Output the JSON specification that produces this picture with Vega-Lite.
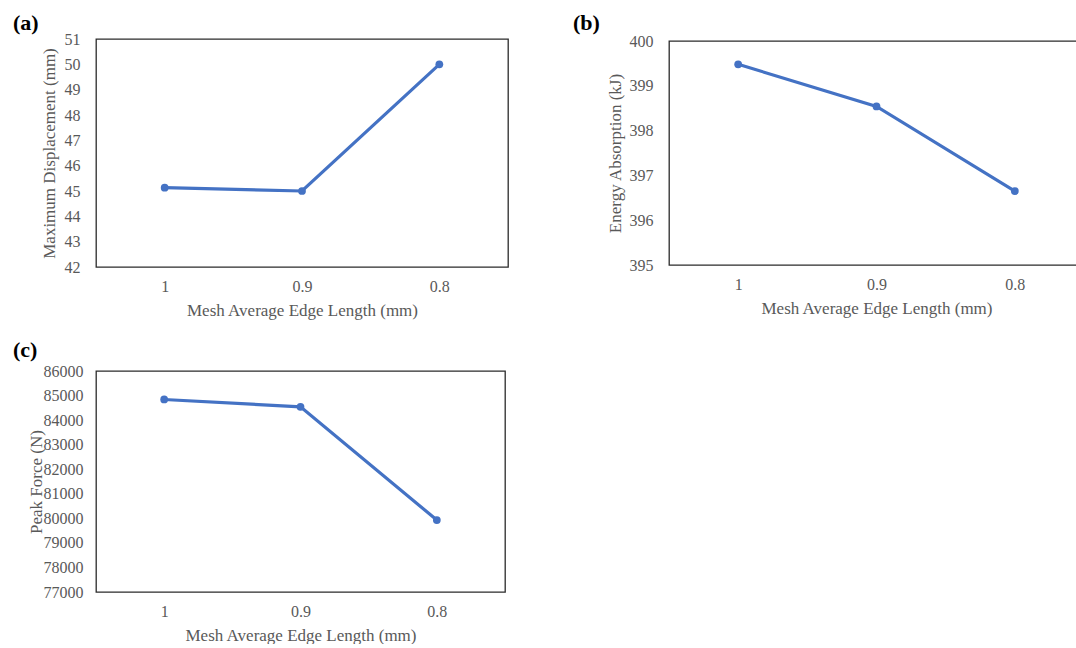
{
  "$schema": "https://vega.github.io/schema/vega-lite/v6.json",
  "background": "white",
  "padding": {"left": 12, "top": 11, "right": 0, "bottom": 0},
  "config": {
    "font": "Liberation Serif",
    "view": {"stroke": "#2b2b2b", "strokeWidth": 1.3},
    "axis": {"grid": false, "ticks": false, "domain": false, "labelFont": "Liberation Serif", "labelFontSize": 16, "labelColor": "#595959", "titleFont": "Liberation Serif", "titleFontSize": 17, "titleColor": "#595959", "titleFontWeight": "normal"},
    "axisX": {"labelAngle": 0, "labelPadding": 11, "titlePadding": 8},
    "axisY": {"labelPadding": 16, "titlePadding": 6},
    "title": {"font": "Liberation Serif", "fontSize": 22, "fontWeight": "bold", "color": "#000000", "anchor": "start", "frame": "group"}
  },
  "datasets": {
    "a": [{"size": "1", "value": 45.13}, {"size": "0.9", "value": 45.0}, {"size": "0.8", "value": 50.0}],
    "b": [{"size": "1", "value": 399.48}, {"size": "0.9", "value": 398.54}, {"size": "0.8", "value": 396.65}],
    "c": [{"size": "1", "value": 84840}, {"size": "0.9", "value": 84540}, {"size": "0.8", "value": 79930}]
  },
  "bounds": "flush",
  "spacing": 332,
  "vconcat": [
    {
      "hconcat": [
        {
          "data": {"name": "a"},
          "width": 412, "height": 228,
          "title": {"text": "(a)", "dx": -83, "offset": -4},
          "mark": {"type": "line", "color": "#4472C4", "strokeWidth": 3.2, "point": {"filled": true, "size": 60, "color": "#4472C4"}},
          "encoding": {
            "x": {"field": "size", "type": "ordinal", "sort": null, "title": "Mesh Average Edge Length (mm)"},
            "y": {"field": "value", "type": "quantitative", "scale": {"domain": [42, 51], "nice": false, "zero": false}, "axis": {"values": [42, 43, 44, 45, 46, 47, 48, 49, 50, 51]}, "title": "Maximum Displacement (mm)"}
          }
        },
        {
          "data": {"name": "b"},
          "width": 415, "height": 224,
          "title": {"text": "(b)", "dx": -96, "offset": -2},
          "mark": {"type": "line", "color": "#4472C4", "strokeWidth": 3.2, "point": {"filled": true, "size": 60, "color": "#4472C4"}},
          "encoding": {
            "x": {"field": "size", "type": "ordinal", "sort": null, "title": "Mesh Average Edge Length (mm)"},
            "y": {"field": "value", "type": "quantitative", "scale": {"domain": [395, 400], "nice": false, "zero": false}, "axis": {"values": [395, 396, 397, 398, 399, 400], "titlePadding": 5}, "title": "Energy Absorption (kJ)"}
          }
        }
      ],
      "spacing": 161,
      "bounds": "flush",
      "center": true
    },
    {
      "data": {"name": "c"},
      "width": 409, "height": 221,
      "title": {"text": "(c)", "dx": -83, "offset": 1},
      "mark": {"type": "line", "color": "#4472C4", "strokeWidth": 3.2, "point": {"filled": true, "size": 60, "color": "#4472C4"}},
      "encoding": {
        "x": {"field": "size", "type": "ordinal", "sort": null, "title": "Mesh Average Edge Length (mm)"},
        "y": {"field": "value", "type": "quantitative", "scale": {"domain": [77000, 86000], "nice": false, "zero": false}, "axis": {"values": [77000, 78000, 79000, 80000, 81000, 82000, 83000, 84000, 85000, 86000], "format": "d", "labelPadding": 13, "titlePadding": -2}, "title": "Peak Force (N)"}
      }
    }
  ]
}
